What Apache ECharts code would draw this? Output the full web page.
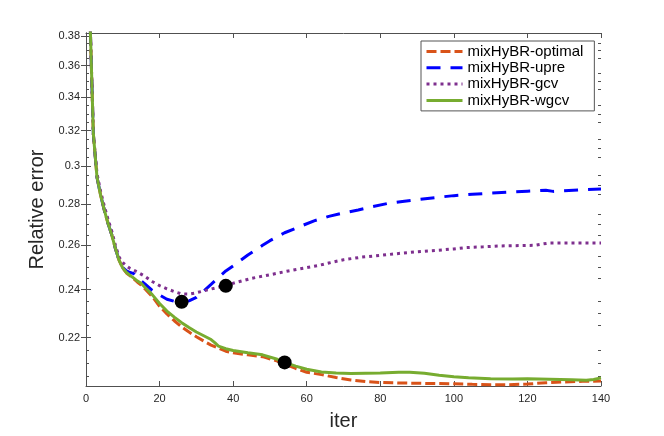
<!DOCTYPE html>
<html lang="en">
<head>
<meta charset="UTF-8">
<script src="https://cdn.jsdelivr.net/npm/echarts@6.0.0/dist/echarts.min.js"></script>
<title>mixHyBR relative error</title>
</head>
<body style="margin:0;background:#fff;">
<div id="main" style="width:664px;height:436px;"></div>
<script type="text/javascript">
// iterations and relative errors
var optIter = [1,2,3,4,5,6,7,8,9,10,11,12,13,14,15,16,18,20,22,24,26,28,30,32,34,36,38,40,44,48,52,54,57,60,64,68,72,76,80,85,90,95,100,105,110,115,120,125,130,135,140];
var optErr  = [0.400,0.318,0.294,0.2845,0.277,0.2705,0.265,0.2585,0.2530,0.2495,0.2473,0.2460,0.2447,0.2432,0.2420,0.2403,0.2370,0.2328,0.2296,0.2268,0.2243,0.2222,0.2203,0.2186,0.2170,0.2158,0.2146,0.2140,0.2132,0.2125,0.2108,0.2097,0.2080,0.2066,0.2057,0.2046,0.2037,0.2031,0.2028,0.2026,0.2025,0.2024,0.2023,0.2021,0.2020,0.2020,0.2022,0.2027,0.2030,0.2032,0.2033];

var upreIter = [1,2,3,4,5,6,7,8,9,10,11,12,13,14,16,18,20,22,24,26,28,30,32,34,36,38,40,44,48,50,54,58,62,66,70,74,78,82,86,90,95,100,105,110,115,120,125,127,130,135,140];
var upreErr  = [0.400,0.318,0.294,0.2845,0.277,0.2705,0.265,0.2585,0.2530,0.2497,0.2482,0.2475,0.2470,0.2452,0.2425,0.2396,0.2376,0.2358,0.2349,0.2346,0.2351,0.2366,0.2393,0.2422,0.2452,0.2482,0.2505,0.2555,0.2600,0.2622,0.2660,0.2689,0.2718,0.2740,0.2757,0.2772,0.2789,0.2805,0.2815,0.2824,0.2835,0.2845,0.2852,0.2858,0.2863,0.2868,0.2873,0.2867,0.2870,0.2875,0.2879];

var gcvIter = [1,2,3,4,5,6,7,8,9,10,11,12,13,14,16,18,20,22,24,26,28,30,32,35,38,41,45,50,55,60,63,66,70,75,80,85,90,95,100,103,108,112,118,122,124,126,132,140];
var gcvErr  = [0.400,0.318,0.296,0.2865,0.279,0.2725,0.2668,0.2600,0.2545,0.2520,0.2505,0.2493,0.2485,0.2477,0.2458,0.2435,0.2417,0.2403,0.2391,0.2381,0.2380,0.2386,0.2394,0.2406,0.2418,0.2432,0.2449,0.2465,0.2482,0.2497,0.2506,0.2518,0.2533,0.2545,0.2553,0.2562,0.2570,0.2576,0.2583,0.2589,0.2593,0.2597,0.2599,0.2600,0.2606,0.2611,0.2611,0.2611];

var wgcvIter = [1,2,3,4,5,6,7,8,9,10,11,12,13,14,15,16,18,20,22,24,26,28,30,32,34,35,36,38,40,44,48,52,54,57,60,64,68,72,76,80,85,88,92,96,100,104,110,116,120,126,132,136,138,140];
var wgcvErr  = [0.400,0.318,0.294,0.2845,0.277,0.2705,0.265,0.2585,0.2530,0.2495,0.2475,0.2462,0.2450,0.2437,0.2427,0.2410,0.2378,0.2340,0.2308,0.2283,0.2260,0.2240,0.2222,0.2207,0.2192,0.2180,0.2166,0.2156,0.2149,0.2140,0.2132,0.2115,0.2103,0.2089,0.2077,0.2067,0.2063,0.2061,0.2062,0.2063,0.2066,0.2066,0.2062,0.2055,0.2049,0.2045,0.2042,0.2041,0.2042,0.2040,0.2038,0.2036,0.2039,0.2045];

// chosen stopping iterations (black dots)
var dotIter = [26, 38, 54];
var dotErr  = [0.2347, 0.2416, 0.2103];

var names = ['mixHyBR-optimal', 'mixHyBR-upre', 'mixHyBR-gcv', 'mixHyBR-wgcv'];
var yMajor = [0.22, 0.24, 0.26, 0.28, 0.3, 0.32, 0.34, 0.36, 0.38];
var yMinor = [0.205, 0.21, 0.215, 0.225, 0.23, 0.235, 0.245, 0.25, 0.255, 0.265, 0.27, 0.275,
              0.285, 0.29, 0.295, 0.305, 0.31, 0.315, 0.325, 0.33, 0.335, 0.345, 0.35, 0.355,
              0.365, 0.37, 0.375];

function log10(v) { return Math.log(v) / Math.LN10; }
function pairs(xs, ys) {
    var out = [];
    for (var i = 0; i < xs.length; i++) out.push([xs[i], log10(ys[i])]);
    return out;
}

var font = 'Liberation Sans, Arial, Helvetica, sans-serif';
var axisColor = '#505050';
var yMin = log10(0.2015), yMax = log10(0.382);

function yAxisCfg(pos, vals, len, showLabel, showLine) {
    var lv = vals.map(log10);
    return {
        type: 'value', position: pos, min: yMin, max: yMax,
        splitLine: {show: false},
        axisLine: {show: showLine, lineStyle: {color: axisColor, width: 1}},
        axisTick: {show: true, inside: true, length: len, customValues: lv,
                   lineStyle: {color: axisColor, width: 1}},
        axisLabel: {show: showLabel, customValues: lv, margin: 6,
                    fontFamily: font, fontSize: 11, color: '#262626',
                    formatter: function (v) {
                        return String(Math.round(Math.pow(10, v) * 100) / 100);
                    }}
    };
}
function xAxisCfg(pos, showLabel) {
    return {
        type: 'value', position: pos, min: 0, max: 140, interval: 20,
        splitLine: {show: false},
        axisLine: {show: true, lineStyle: {color: axisColor, width: 1}},
        axisTick: {show: true, inside: true, length: 5, lineStyle: {color: axisColor}},
        axisLabel: {show: showLabel, margin: 7, fontFamily: font, fontSize: 11, color: '#262626'}
    };
}

var myChart = echarts.init(document.getElementById('main'));

var bottomX = xAxisCfg('bottom', true);
bottomX.name = 'iter';
bottomX.nameLocation = 'middle';
bottomX.nameGap = 25;
bottomX.nameTextStyle = {fontFamily: font, fontSize: 20, color: '#262626'};

var leftY = yAxisCfg('left', yMajor, 5, true, true);
leftY.name = 'Relative error';
leftY.nameLocation = 'middle';
leftY.nameGap = 27;
leftY.nameTextStyle = {fontFamily: font, fontSize: 20, color: '#262626'};

var option = {
    animation: false,
    backgroundColor: '#fff',
    grid: {left: 86, right: 63, top: 33, bottom: 48},
    legend: {
        data: names, orient: 'vertical', left: 421, top: 41,
        backgroundColor: '#fff', borderColor: '#555', borderWidth: 1,
        padding: [3, 11, 3, 4], itemWidth: 36, itemHeight: 12, itemGap: 1.3,
        itemStyle: {opacity: 0, color: 'rgba(0,0,0,0)', borderWidth: 0},
        lineStyle: {width: 3},
        textStyle: {fontFamily: font, fontSize: 15, color: '#000'}
    },
    xAxis: [bottomX, xAxisCfg('top', false)],
    yAxis: [
        leftY,
        yAxisCfg('right', yMajor, 5, false, true),
        yAxisCfg('left', yMinor, 3, false, false),
        yAxisCfg('right', yMinor, 3, false, false)
    ],
    series: [
        {name: names[0], type: 'line', symbol: 'none', data: pairs(optIter, optErr),
         lineStyle: {color: '#D95319', width: 3, type: [10, 4]}, itemStyle: {color: '#D95319'}},
        {name: names[1], type: 'line', symbol: 'none', data: pairs(upreIter, upreErr),
         lineStyle: {color: '#0000FF', width: 3, type: [14, 10]}, itemStyle: {color: '#0000FF'}},
        {name: names[2], type: 'line', symbol: 'none', data: pairs(gcvIter, gcvErr),
         lineStyle: {color: '#7E2F8E', width: 3, type: [3, 4]}, itemStyle: {color: '#7E2F8E'}},
        {name: names[3], type: 'line', symbol: 'none', data: pairs(wgcvIter, wgcvErr),
         lineStyle: {color: '#77AC30', width: 3}, itemStyle: {color: '#77AC30'}},
        {name: 'stop', type: 'scatter', symbol: 'circle', symbolSize: 14, z: 5,
         data: pairs(dotIter, dotErr), itemStyle: {color: '#000', opacity: 1}}
    ]
};
myChart.setOption(option);
</script>
</body>
</html>
